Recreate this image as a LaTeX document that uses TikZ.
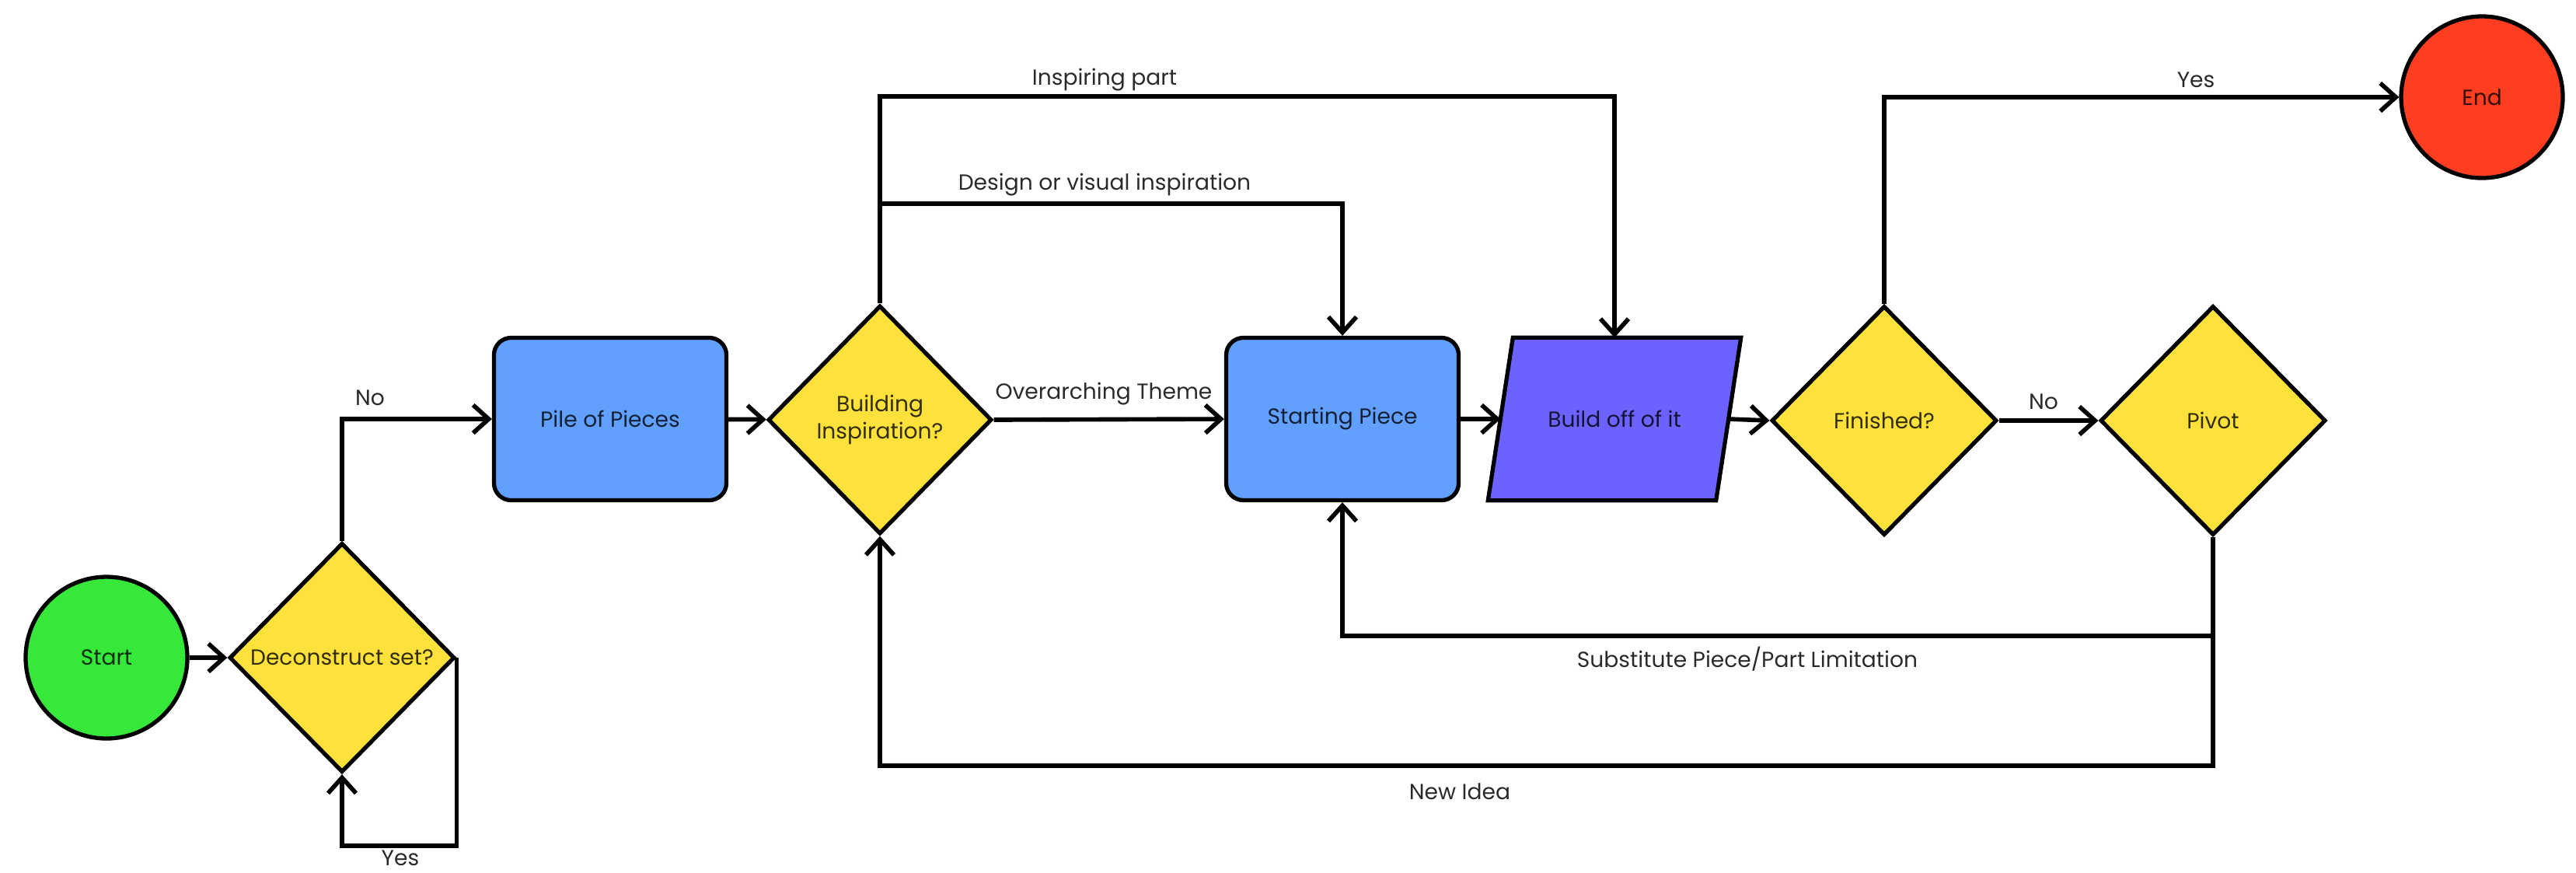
\documentclass[tikz,border=0pt]{standalone}
\usepackage{fontspec}
\setmainfont{Poppins}
\usetikzlibrary{arrows.meta,shapes.geometric,calc}
\definecolor{cgreen}{HTML}{35E83A}
\definecolor{cyellow}{HTML}{FEE13A}
\definecolor{cblue}{HTML}{61A0FF}
\definecolor{cpurple}{HTML}{6C63FF}
\definecolor{cred}{HTML}{FF3D21}
\definecolor{ctext}{HTML}{2A2A2A}
\tikzset{
  every node/.style={font=\fontsize{8}{9.8}\selectfont},
  shapebox/.style={draw=black, line width=1.5pt, text opacity=0.8, text=black, align=center, inner sep=0pt},
  termcirc/.style={shapebox, circle, minimum size=2.08cm},
  decis/.style={shapebox, diamond, fill=cyellow, minimum width=2.9cm, minimum height=2.95cm},
  procbox/.style={shapebox, rectangle, rounded corners=0.22cm, fill=cblue, minimum width=2.99cm, minimum height=2.09cm},
  conn/.style={draw=black, line width=1.6pt, -{Straight Barb[length=0.2cm,width=0.36cm,line width=1.6pt]}},
  lbl/.style={text=ctext, inner sep=0pt}
}
\begin{document}
\begin{tikzpicture}
\useasboundingbox (0,0) rectangle (33.14,-11.22);

% nodes
\node[termcirc, fill=cgreen] (start) at (1.37,-8.46) {Start};
\node[decis] (decon) at (4.40,-8.46) {Deconstruct set?};
\node[procbox] (pile) at (7.85,-5.39) {Pile of Pieces};
\node[decis, minimum width=2.88cm, minimum height=2.94cm] (bldg) at (11.32,-5.40) {Building\\Inspiration?};
\node[procbox] (startp) at (17.27,-5.39) {Starting Piece};
\node[inner sep=0pt, minimum width=2.92cm, minimum height=2.08cm] (build) at (20.77,-5.39) {};
\draw[fill=cpurple, line width=1.5pt] ($(build.south west)+(-0.16,0)$) -- ($(build.north west)+(0.16,0)$) -- ($(build.north east)+(0.16,0)$) -- ($(build.south east)+(-0.16,0)$) -- cycle;
\node[text=black, text opacity=0.8] (buildtxt) at (build.center) {Build off of it};
\node[decis] (fin) at (24.24,-5.41) {Finished?};
\node[decis] (pivot) at (28.47,-5.41) {Pivot};
\node[termcirc, fill=cred] (end) at (31.93,-1.25) {End};

% helper coordinates
\coordinate (ytopA) at (0,-1.24);
\coordinate (ytopB) at (0,-2.62);
\coordinate (ysub) at (0,-8.18);
\coordinate (ynew) at (0,-9.85);
\coordinate (yloop) at (0,-10.88);

% connectors
\draw[conn] (start) -- (decon);
\draw[conn] (decon.north) |- (pile.west);
\node[lbl] (lno1) at (4.76,-5.12) {No};
\draw[conn] (decon.east) -- (decon.east |- yloop) -| (decon.south);
\node[lbl] (lyes1) at (5.15,-11.04) {Yes};
\draw[conn] (pile) -- (bldg);
\draw[conn] (bldg.east) -- (startp.west);
\node[lbl] (lover) at (14.20,-5.07) {Overarching Theme};
\draw[conn] (bldg.north) -- (bldg.north |- ytopA) -| (build.north);
\node[lbl] (linsp) at (14.21,-1.03) {Inspiring part};
\draw[conn] (bldg.north |- ytopB) -| (startp.north);
\node[lbl] (ldes) at (14.21,-2.38) {Design or visual inspiration};
\draw[conn] (startp.east) -- (build.west);
\draw[conn] (build.east) -- (fin.west);
\draw[conn] (fin.north) |- (end.west);
\node[lbl] (lyes2) at (28.25,-1.03) {Yes};
\draw[conn] (fin.east) -- (pivot.west);
\node[lbl] (lno2) at (26.29,-5.17) {No};
\draw[conn] (pivot.south) -- (pivot.south |- ynew) -| (bldg.south);
\node[lbl] (lnew) at (18.78,-10.18) {New Idea};
\draw[conn] (pivot.south |- ysub) -| (startp.south);
\node[lbl] (lsub) at (22.48,-8.48) {Substitute Piece/Part Limitation};
\end{tikzpicture}
\end{document}
